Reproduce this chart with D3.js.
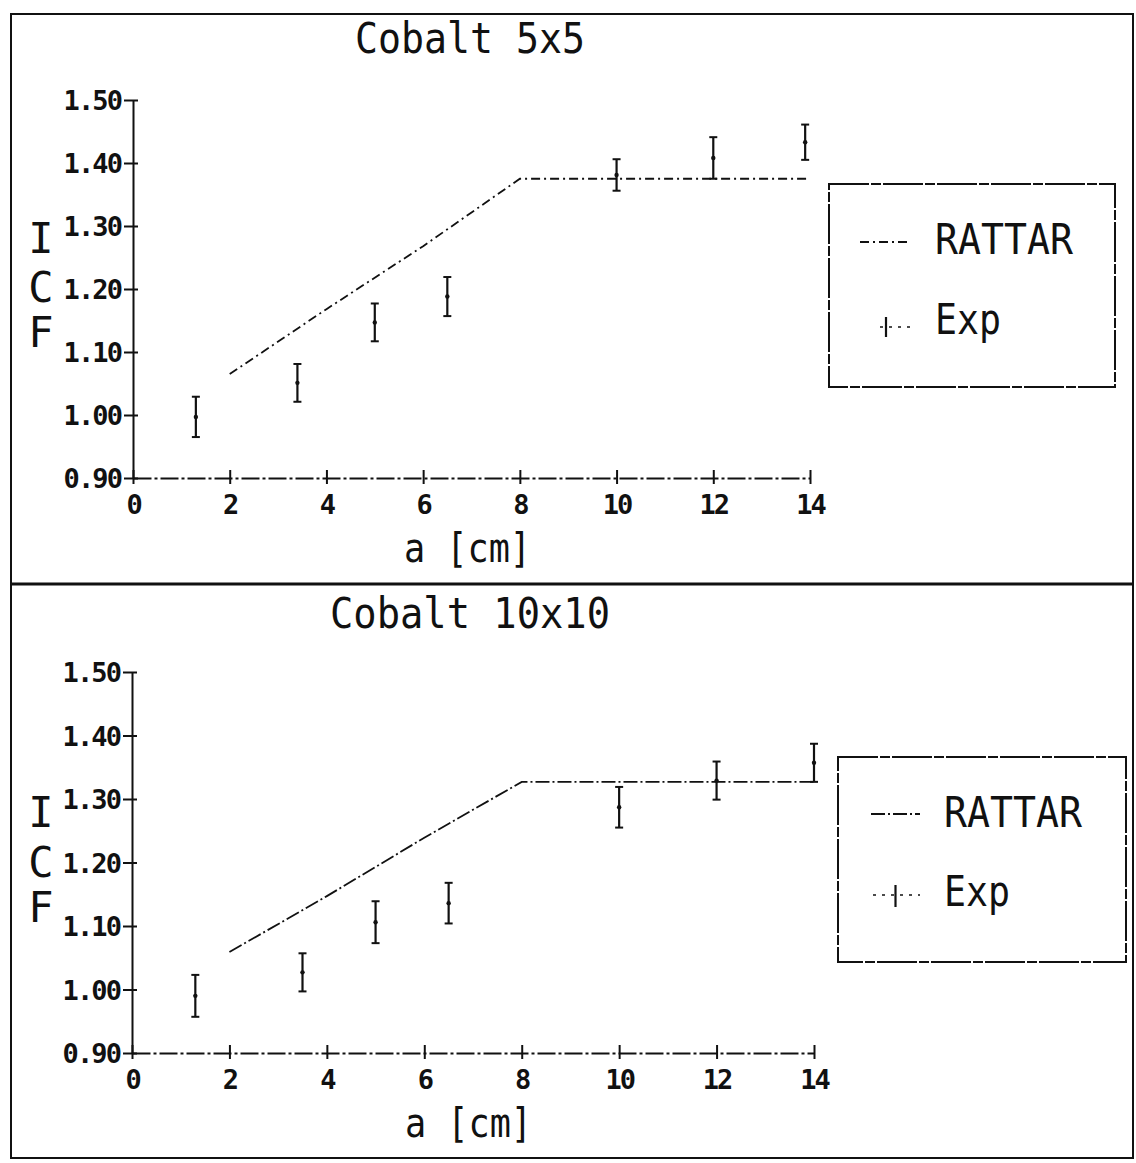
<!DOCTYPE html>
<html>
<head>
<meta charset="utf-8">
<script src="https://cdn.jsdelivr.net/npm/d3@7"></script>
<style>
  html, body { margin: 0; padding: 0; background: #fff; }
  svg { display: block; }
  text { font-family: "DejaVu Sans Mono", "Liberation Mono", monospace; fill: #111; }
</style>
</head>
<body>
<svg id="chart" width="1136" height="1163"></svg>
<script>
// ---------- data ----------
const xTicks = [0, 2, 4, 6, 8, 10, 12, 14];
const yTicks = [0.90, 1.00, 1.10, 1.20, 1.30, 1.40, 1.50];
const yTickLabels = ["0.90", "1.00", "1.10", "1.20", "1.30", "1.40", "1.50"];

const titles = ["Cobalt 5x5", "Cobalt 10x10"];
const xLabel = "a [cm]";
const yLabelLetters = ["I", "C", "F"];
const legendNames = ["RATTAR", "Exp"];

// RATTAR calculation
const rattarX = [2, 4, 6, 8, 10, 12, 14];
const rattar5 = [1.065, 1.168, 1.268, 1.375, 1.375, 1.375, 1.375];
const rattar10 = [1.059, 1.147, 1.239, 1.327, 1.327, 1.327, 1.327];

// Experimental values with error
const exp5X = [1.3, 3.4, 5.0, 6.5, 10.0, 12.0, 13.9];
const exp5 = [0.997, 1.051, 1.147, 1.188, 1.381, 1.408, 1.433];
const exp5Err = [0.032, 0.030, 0.030, 0.031, 0.025, 0.033, 0.028];

const exp10X = [1.3, 3.5, 5.0, 6.5, 10.0, 12.0, 14.0];
const exp10 = [0.990, 1.027, 1.106, 1.136, 1.287, 1.329, 1.357];
const exp10Err = [0.033, 0.030, 0.033, 0.032, 0.032, 0.030, 0.030];

// ---------- layout ----------
const svg = d3.select("#chart");
const ink = "#111";

// outer frame and separator
svg.append("rect").attr("x", 11).attr("y", 14).attr("width", 1122).attr("height", 1144)
  .attr("fill", "none").attr("stroke", ink).attr("stroke-width", 2);
svg.append("line").attr("x1", 11).attr("x2", 1133).attr("y1", 584).attr("y2", 584)
  .attr("stroke", ink).attr("stroke-width", 3);

const panels = [
  {
    title: titles[0], titleX: 355, titleY: 53, titleLen: 230,
    xr: [133, 810], yr: [478, 100],
    xLabX: 404, xLabY: 562,
    yLabX: 41, yLabYs: [253, 302, 347],
    rattar: rattar5, ex: exp5X, ey: exp5, ee: exp5Err,
    lineDash: "9,4,2,4",
    legend: { x: 829, y: 184, w: 286, h: 203, textX: 935, t1Y: 254, t2Y: 334,
              l1: [860, 910, 242], bar: [886, 317, 337], exLine: [880, 910, 327] }
  },
  {
    title: titles[1], titleX: 330, titleY: 628, titleLen: 280,
    xr: [132, 814], yr: [1053, 672],
    xLabX: 405, xLabY: 1137,
    yLabX: 41, yLabYs: [827, 877, 922],
    rattar: rattar10, ex: exp10X, ey: exp10, ee: exp10Err,
    lineDash: "14,3,2,3",
    legend: { x: 838, y: 757, w: 288, h: 205, textX: 944, t1Y: 827, t2Y: 906,
              l1: [871, 920, 814], bar: [895.5, 885, 907], exLine: [873, 920, 895] }
  }
];

panels.forEach(p => {
  const g = svg.append("g");
  const x = d3.scaleLinear().domain([0, 14]).range(p.xr);
  const y = d3.scaleLinear().domain([0.90, 1.50]).range(p.yr);

  // title
  g.append("text").attr("x", p.titleX).attr("y", p.titleY)
    .attr("font-size", 42).attr("textLength", p.titleLen).attr("lengthAdjust", "spacingAndGlyphs")
    .text(p.title);

  // y axis
  const yAxis = d3.axisLeft(y).tickValues(yTicks).tickSize(0).tickFormat((d, i) => yTickLabels[i]);
  const ya = g.append("g").attr("transform", `translate(${x(0)},0)`).call(yAxis);
  ya.select(".domain").attr("stroke", ink).attr("stroke-width", 2);
  ya.selectAll(".tick text")
    .attr("x", -12).attr("dy", "0.36em")
    .attr("font-size", 27).attr("font-weight", "bold").attr("font-family", "DejaVu Sans Mono")
    .attr("letter-spacing", -1.9)
    .attr("fill", ink);
  ya.selectAll(".tick").append("line")
    .attr("x1", -9).attr("x2", 5).attr("stroke", ink).attr("stroke-width", 2);

  // x axis
  const xAxis = d3.axisBottom(x).tickValues(xTicks).tickSize(0).tickFormat(d3.format("d"));
  const xa = g.append("g").attr("transform", `translate(0,${y(0.90)})`).call(xAxis);
  xa.select(".domain").attr("stroke", ink).attr("stroke-width", 2)
    .attr("stroke-dasharray", "18,3,3,3");
  xa.selectAll(".tick text")
    .attr("y", 36).attr("dy", 0)
    .attr("font-size", 27).attr("font-weight", "bold").attr("font-family", "DejaVu Sans Mono")
    .attr("letter-spacing", -2)
    .attr("fill", ink);
  xa.selectAll(".tick").append("line")
    .attr("y1", -8).attr("y2", 6).attr("stroke", ink).attr("stroke-width", 2);

  // axis labels
  g.append("text").attr("x", p.xLabX).attr("y", p.xLabY)
    .attr("font-size", 40).attr("textLength", 127).attr("lengthAdjust", "spacingAndGlyphs")
    .text(xLabel);
  yLabelLetters.forEach((ch, i) => {
    g.append("text").attr("x", p.yLabX).attr("y", p.yLabYs[i])
      .attr("text-anchor", "middle").attr("font-size", 42)
      .text(ch);
  });

  // RATTAR line
  const pts = rattarX.map((d, i) => [d, p.rattar[i]]);
  g.append("path").datum(pts)
    .attr("d", d3.line().x(d => x(d[0])).y(d => y(d[1])))
    .attr("fill", "none").attr("stroke", ink).attr("stroke-width", 1.8)
    .attr("stroke-dasharray", p.lineDash);

  // Exp error bars
  const ed = p.ex.map((d, i) => ({ x: d, y: p.ey[i], e: p.ee[i] }));
  const eg = g.selectAll(".err").data(ed).join("g").attr("class", "err");
  eg.append("line")
    .attr("x1", d => x(d.x)).attr("x2", d => x(d.x))
    .attr("y1", d => y(d.y - d.e)).attr("y2", d => y(d.y + d.e))
    .attr("stroke", ink).attr("stroke-width", 2.2);
  eg.append("line")
    .attr("x1", d => x(d.x) - 4).attr("x2", d => x(d.x) + 4)
    .attr("y1", d => y(d.y + d.e)).attr("y2", d => y(d.y + d.e))
    .attr("stroke", ink).attr("stroke-width", 2);
  eg.append("line")
    .attr("x1", d => x(d.x) - 4).attr("x2", d => x(d.x) + 4)
    .attr("y1", d => y(d.y - d.e)).attr("y2", d => y(d.y - d.e))
    .attr("stroke", ink).attr("stroke-width", 2);
  eg.append("circle")
    .attr("cx", d => x(d.x)).attr("cy", d => y(d.y)).attr("r", 2.2)
    .attr("fill", ink);

  // legend
  const L = p.legend;
  g.append("rect").attr("x", L.x).attr("y", L.y).attr("width", L.w).attr("height", L.h)
    .attr("fill", "none").attr("stroke", ink).attr("stroke-width", 2)
    .attr("stroke-dasharray", "40,2,10,2");
  g.append("line").attr("x1", L.l1[0]).attr("x2", L.l1[1]).attr("y1", L.l1[2]).attr("y2", L.l1[2])
    .attr("stroke", ink).attr("stroke-width", 1.8).attr("stroke-dasharray", p.lineDash);
  g.append("line").attr("x1", L.exLine[0]).attr("x2", L.exLine[1]).attr("y1", L.exLine[2]).attr("y2", L.exLine[2])
    .attr("stroke", ink).attr("stroke-width", 1.5).attr("stroke-dasharray", "3,6");
  g.append("line").attr("x1", L.bar[0]).attr("x2", L.bar[0]).attr("y1", L.bar[1]).attr("y2", L.bar[2])
    .attr("stroke", ink).attr("stroke-width", 2.2);
  g.append("text").attr("x", L.textX).attr("y", L.t1Y)
    .attr("font-size", 42).attr("textLength", 138).attr("lengthAdjust", "spacingAndGlyphs")
    .text(legendNames[0]);
  g.append("text").attr("x", L.textX).attr("y", L.t2Y)
    .attr("font-size", 42).attr("textLength", 66).attr("lengthAdjust", "spacingAndGlyphs")
    .text(legendNames[1]);
});
</script>
</body>
</html>
